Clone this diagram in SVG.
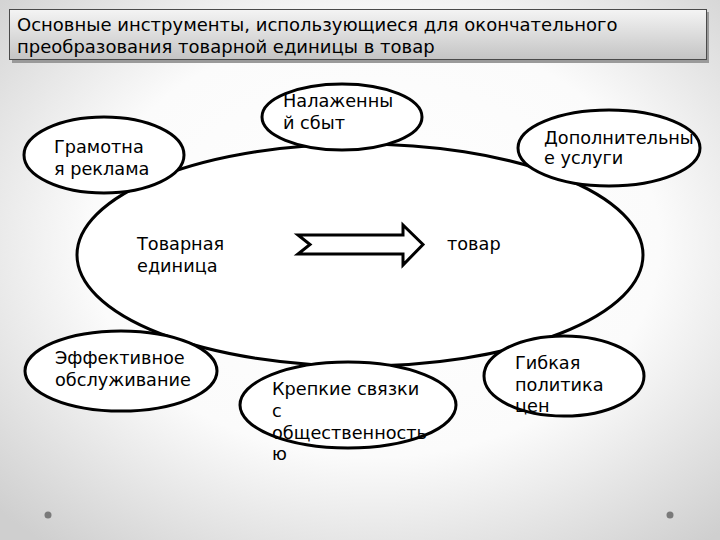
<svg xmlns="http://www.w3.org/2000/svg" width="720" height="540" viewBox="0 0 720 540">
  <defs>
    <radialGradient id="bg" cx="0.52" cy="0.45" r="0.72">
      <stop offset="0" stop-color="#ffffff"/>
      <stop offset="0.55" stop-color="#fbfbfb"/>
      <stop offset="1" stop-color="#cfcfcf"/>
    </radialGradient>
    <linearGradient id="titleFill" x1="0" y1="0" x2="0" y2="1">
      <stop offset="0" stop-color="#f4f4f4"/>
      <stop offset="1" stop-color="#c4c4c4"/>
    </linearGradient>
    <style>
      .el { fill: #ffffff; stroke: #000000; stroke-width: 3; }
      .tx { font-family: "DejaVu Sans", Verdana, sans-serif; font-size: 17.7px; fill: #000000; }
      .tt { font-family: "DejaVu Sans", Verdana, sans-serif; font-size: 18px; fill: #000000; }
      .dot { fill: #7a7a7a; }
    </style>
  </defs>
  <rect width="720" height="540" fill="url(#bg)"/>

  <g id="title">
    <rect x="12" y="12" width="697" height="51" fill="#9a9a9a"/>
    <rect x="9.5" y="9.5" width="697" height="50" fill="url(#titleFill)" stroke="#4a4a4a" stroke-width="1"/>
    <text class="tt" x="17" y="31">Основные инструменты, использующиеся для окончательного</text>
    <text class="tt" x="17" y="53">преобразования товарной единицы в товар</text>
  </g>

  <g id="center">
    <ellipse class="el" cx="360" cy="255" rx="283" ry="111"/>
    <text class="tx" x="137" y="250">Товарная</text>
    <text class="tx" x="137" y="272">единица</text>
    <text class="tx" x="447" y="250">товар</text>
  </g>

  <g id="connectors">
    <path d="M298,235 L403,235 L403,225 L423,244.5 L403,265 L403,254 L298,254 L310,244.5 Z" fill="#ffffff" stroke="#000000" stroke-width="3" stroke-linejoin="miter"/>
  </g>

  <g id="node-sbyt">
    <ellipse class="el" cx="342" cy="117" rx="80" ry="33"/>
    <text class="tx" x="283" y="107">Налаженны</text>
    <text class="tx" x="283" y="129">й сбыт</text>
  </g>

  <g id="node-reklama">
    <ellipse class="el" cx="104" cy="155" rx="80" ry="38"/>
    <text class="tx" x="54" y="153">Грамотна</text>
    <text class="tx" x="54" y="175">я реклама</text>
  </g>

  <g id="node-uslugi">
    <ellipse class="el" cx="609" cy="148" rx="91" ry="38"/>
    <text class="tx" x="544" y="144">Дополнительны</text>
    <text class="tx" x="544" y="164">е услуги</text>
  </g>

  <g id="node-obsluzhivanie">
    <ellipse class="el" cx="121" cy="371" rx="96" ry="40"/>
    <text class="tx" x="55" y="364">Эффективное</text>
    <text class="tx" x="55" y="386">обслуживание</text>
  </g>

  <g id="node-svyazki">
    <ellipse class="el" cx="348" cy="405" rx="108" ry="43"/>
    <text class="tx" x="272" y="395">Крепкие связки</text>
    <text class="tx" x="272" y="417">с</text>
    <text class="tx" x="272" y="439">общественность</text>
    <text class="tx" x="272" y="460">ю</text>
  </g>

  <g id="node-politika">
    <ellipse class="el" cx="564" cy="376" rx="80" ry="40"/>
    <text class="tx" x="515" y="369">Гибкая</text>
    <text class="tx" x="515" y="391">политика</text>
    <text class="tx" x="515" y="412">цен</text>
  </g>

  <circle class="dot" cx="48" cy="515" r="3.5"/>
  <circle class="dot" cx="670" cy="515" r="3.5"/>
</svg>
